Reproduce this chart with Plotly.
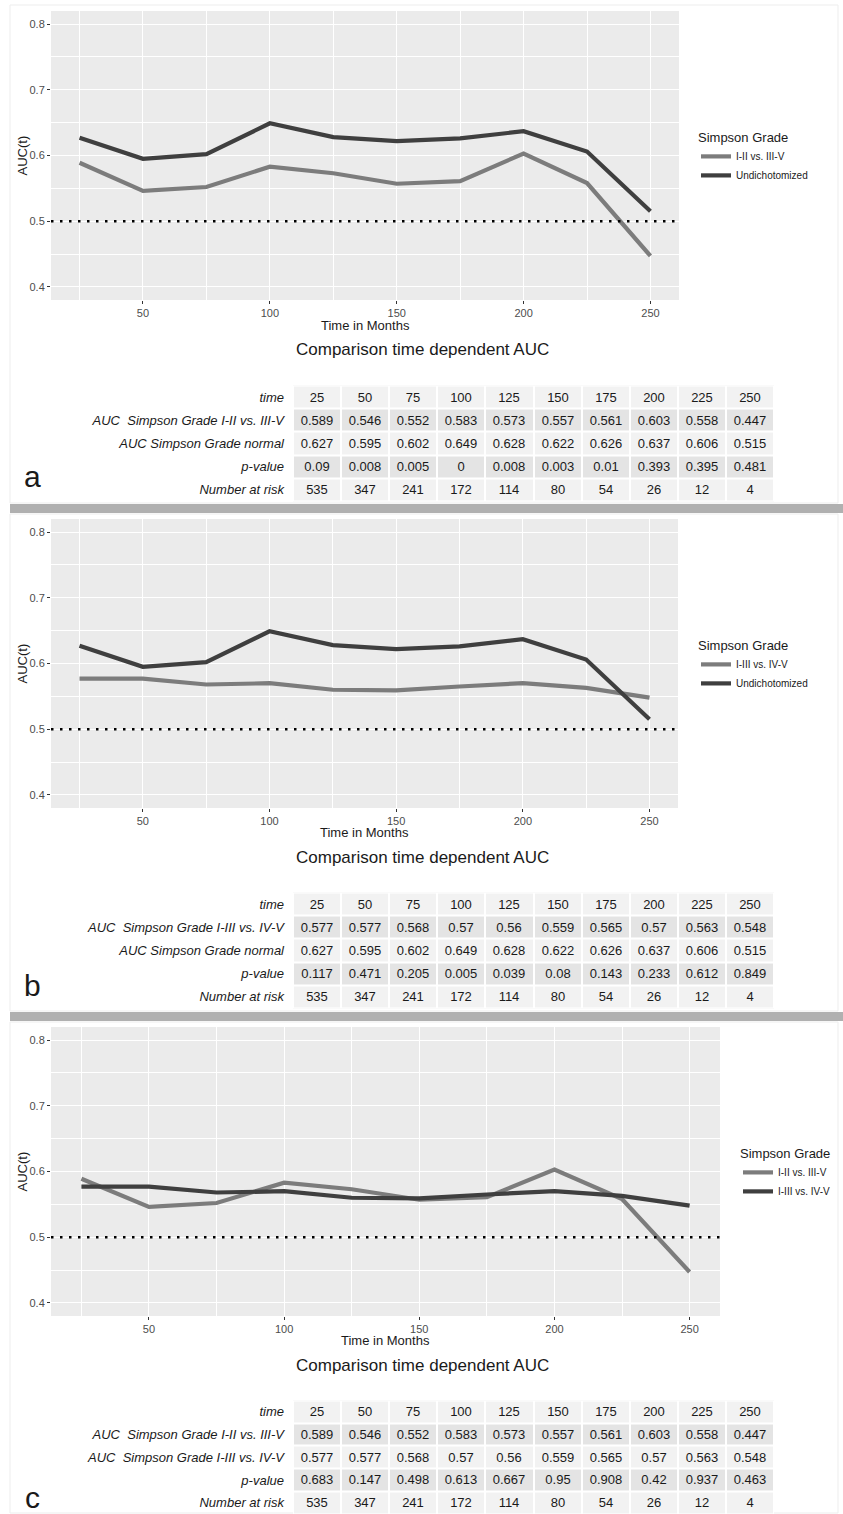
import plotly.graph_objects as go

W, H = 843, 1514

# ---------------- data ----------------
time = [25, 50, 75, 100, 125, 150, 175, 200, 225, 250]
auc_12_vs_35 = [0.589, 0.546, 0.552, 0.583, 0.573, 0.557, 0.561, 0.603, 0.558, 0.447]
auc_undich = [0.627, 0.595, 0.602, 0.649, 0.628, 0.622, 0.626, 0.637, 0.606, 0.515]
auc_13_vs_45 = [0.577, 0.577, 0.568, 0.57, 0.56, 0.559, 0.565, 0.57, 0.563, 0.548]
p_a = [0.09, 0.008, 0.005, 0, 0.008, 0.003, 0.01, 0.393, 0.395, 0.481]
p_b = [0.117, 0.471, 0.205, 0.005, 0.039, 0.08, 0.143, 0.233, 0.612, 0.849]
p_c = [0.683, 0.147, 0.498, 0.613, 0.667, 0.95, 0.908, 0.42, 0.937, 0.463]
n_risk = [535, 347, 241, 172, 114, 80, 54, 26, 12, 4]
x_ticks = [50, 100, 150, 200, 250]
y_ticks = [0.4, 0.5, 0.6, 0.7, 0.8]

LIGHT = "#7c7c7c"
DARK = "#3f3f3f"
FONT = "Liberation Sans, Arial, sans-serif"
TXT = "#1a1a1a"


def px(x):
    return min(max(x / W, 0), 1)


def py(y):
    return min(max(1 - y / H, 0), 1)


def fmt(v):
    return f"{v:g}"


panels = [
    dict(letter="a", box=(51, 679, 11, 300), legend=(696, 125),
         series=[("I-II vs. III-V", auc_12_vs_35, LIGHT), ("Undichotomized", auc_undich, DARK)],
         rows=[("time", time),
               ("AUC\u00a0 Simpson Grade I-II vs. III-V", auc_12_vs_35),
               ("AUC Simpson Grade normal", auc_undich),
               ("p-value", p_a), ("Number at risk", n_risk)],
         ttl_y=325, cmp_y=350, table_top=385.5, letter_y=477, frame=(5, 503)),
    dict(letter="b", box=(51, 678, 519, 808), legend=(696, 633),
         series=[("I-III vs. IV-V", auc_13_vs_45, LIGHT), ("Undichotomized", auc_undich, DARK)],
         rows=[("time", time),
               ("AUC\u00a0 Simpson Grade I-III vs. IV-V", auc_13_vs_45),
               ("AUC Simpson Grade normal", auc_undich),
               ("p-value", p_b), ("Number at risk", n_risk)],
         ttl_y=832, cmp_y=857, table_top=892.5, letter_y=985, frame=(514, 1011)),
    dict(letter="c", box=(51, 720, 1027, 1316), legend=(738, 1141),
         series=[("I-II vs. III-V", auc_12_vs_35, LIGHT), ("I-III vs. IV-V", auc_13_vs_45, DARK)],
         rows=[("time", time),
               ("AUC\u00a0 Simpson Grade I-II vs. III-V", auc_12_vs_35),
               ("AUC\u00a0 Simpson Grade I-III vs. IV-V", auc_13_vs_45),
               ("p-value", p_c), ("Number at risk", n_risk)],
         ttl_y=1340, cmp_y=1365, table_top=1400.5, letter_y=1497, frame=(1022, 1513)),
]

fig = go.Figure()
layout = dict(width=W, height=H, margin=dict(l=0, r=0, t=0, b=0),
              paper_bgcolor="white", plot_bgcolor="#ebebeb",
              font=dict(family=FONT, color=TXT), showlegend=True)
shapes = []
annotations = []

ROW_H = 23.2
TAB_L, TAB_R = 293, 774

for i, p in enumerate(panels, start=1):
    sfx = "" if i == 1 else str(i)
    l, r, t, b = p["box"]
    layout[f"xaxis{sfx}"] = dict(
        domain=[px(l), px(r)], anchor=f"y{sfx}", range=[13.75, 261.25],
        tickmode="array", tickvals=x_ticks,
        showgrid=True, gridcolor="white", gridwidth=1.1,
        minor=dict(dtick=25, tick0=0, showgrid=True, gridcolor="white", gridwidth=0.5),
        ticks="outside", ticklen=3, tickcolor="#333333", tickwidth=1,
        tickfont=dict(size=11, color="#4d4d4d"), zeroline=False, showline=False, fixedrange=True)
    layout[f"yaxis{sfx}"] = dict(
        domain=[py(b), py(t)], anchor=f"x{sfx}", range=[0.38, 0.82],
        tickmode="array", tickvals=y_ticks, tickformat=".1f",
        showgrid=True, gridcolor="white", gridwidth=1.1,
        minor=dict(dtick=0.05, tick0=0, showgrid=True, gridcolor="white", gridwidth=0.5),
        ticks="outside", ticklen=3, tickcolor="#333333", tickwidth=1,
        tickfont=dict(size=11, color="#4d4d4d"), zeroline=False, showline=False, fixedrange=True)

    leg_name = "legend" if i == 1 else f"legend{i}"
    for name, ys, col in p["series"]:
        fig.add_trace(go.Scatter(x=time, y=ys, mode="lines", name=name,
                                 line=dict(color=col, width=4.2),
                                 xaxis=f"x{sfx}", yaxis=f"y{sfx}", legend=leg_name,
                                 hoverinfo="skip"))
    lx, ly = p["legend"]
    layout[leg_name] = dict(x=px(lx), y=py(ly), xanchor="left", yanchor="top",
                            title=dict(text="Simpson Grade", font=dict(size=13, color=TXT)),
                            font=dict(size=10, color=TXT), bgcolor="rgba(0,0,0,0)",
                            itemwidth=30, tracegroupgap=0)

    # reference line at AUC = 0.5
    shapes.append(dict(type="line", xref=f"x{sfx} domain", x0=0, x1=1,
                       yref=f"y{sfx}", y0=0.5, y1=0.5,
                       line=dict(color="black", width=2.5, dash="2.5px,6.5px")))

    # faint panel frame
    f0, f1 = p["frame"]
    shapes.append(dict(type="rect", xref="paper", yref="paper", x0=px(10), x1=px(838),
                       y0=py(f1), y1=py(f0), line=dict(color="#ededed", width=1), layer="below"))

    # axis titles and table title
    annotations.append(dict(text="AUC(t)", xref="paper", yref="paper", x=px(22), y=py((t + b) / 2),
                            textangle=-90, showarrow=False, font=dict(size=13, color=TXT),
                            xanchor="center", yanchor="middle"))
    annotations.append(dict(text="Time in Months", xref="paper", yref="paper", x=px((l + r) / 2),
                            y=py(p["ttl_y"]), showarrow=False, font=dict(size=13, color=TXT),
                            xanchor="center", yanchor="middle"))
    annotations.append(dict(text="Comparison time dependent AUC", xref="paper", yref="paper",
                            x=px(422), y=py(p["cmp_y"]), showarrow=False,
                            font=dict(size=17, color=TXT), xanchor="center", yanchor="middle"))
    annotations.append(dict(text=p["letter"], xref="paper", yref="paper", x=px(32), y=py(p["letter_y"]),
                            showarrow=False, font=dict(size=30, color=TXT),
                            xanchor="center", yanchor="middle"))

    # ---- table drawn as a heatmap with white gaps ----
    k = i + 3
    tx, ty = f"x{k}", f"y{k}"
    nrow = len(p["rows"])
    top = p["table_top"]
    row_idx = list(range(nrow))
    col_cat = [str(v) for v in time]
    z = [[(r_ % 2) for _ in time] for r_ in row_idx]
    text = [[fmt(v) for v in vals] for _, vals in p["rows"]]
    fig.add_trace(go.Heatmap(
        x=col_cat, y=row_idx, z=z, text=text, texttemplate="%{text}",
        textfont=dict(size=13, color=TXT, family=FONT),
        colorscale=[[0, "#f2f2f2"], [1, "#e4e4e4"]], zmin=0, zmax=1, showscale=False,
        xgap=2, ygap=2, xaxis=tx, yaxis=ty, hoverinfo="skip", showlegend=False))
    layout[f"xaxis{k}"] = dict(domain=[px(TAB_L), px(TAB_R)], anchor=ty, type="category",
                               showticklabels=False, showgrid=False, zeroline=False,
                               ticks="", fixedrange=True)
    layout[f"yaxis{k}"] = dict(domain=[py(top + nrow * ROW_H), py(top)], anchor=tx,
                               range=[nrow - 0.5, -0.5], tickmode="array", tickvals=row_idx,
                               ticktext=["<i>" + lab + "</i>" for lab, _ in p["rows"]],
                               tickfont=dict(size=13, color=TXT), ticks="", showgrid=False,
                               zeroline=False, showline=False, fixedrange=True,
                               ticklabelstandoff=8)
    shapes.append(dict(type="rect", xref=f"{tx} domain", yref=f"{ty} domain", x0=0, x1=1,
                       y0=0, y1=1, fillcolor="white", line=dict(width=0), layer="below"))

# separators between panels
for y0, y1 in [(504, 513), (1012, 1021)]:
    shapes.append(dict(type="rect", xref="paper", yref="paper", x0=px(10), x1=1,
                       y0=py(y1), y1=py(y0), fillcolor="#b0b0b0", line=dict(width=0)))

layout["shapes"] = shapes
layout["annotations"] = annotations
fig.update_layout(**layout)
fig.write_html("out.html", config={"displayModeBar": False},
               post_script="document.body.style.margin='0px';document.body.style.overflow='hidden';")
